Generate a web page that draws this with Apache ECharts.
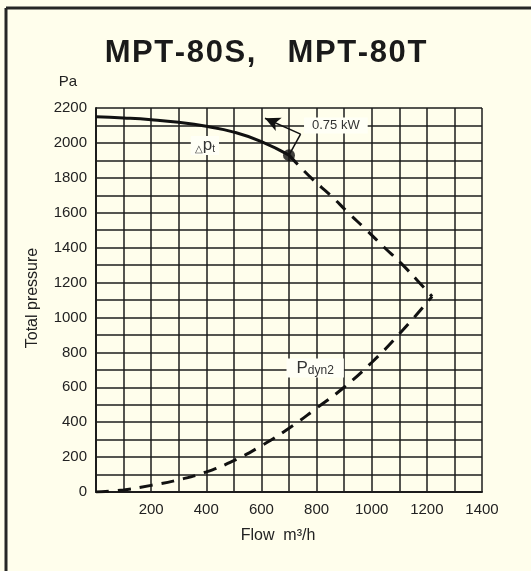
<!DOCTYPE html>
<html><head><meta charset="utf-8">
<script src="https://cdn.jsdelivr.net/npm/echarts@6/dist/echarts.min.js"></script>
<style>html,body{margin:0;padding:0;background:#fffeec}#c{width:531px;height:571px}</style>
</head><body><div id="c"></div>
<script>
// Operating curve (solid) – total pressure Δpt
const curveFlow = [0, 100, 200, 300, 400, 500, 600, 700];
const curvePressure = [2150, 2143, 2133, 2118, 2095, 2062, 2008, 1930];
// Extension of the curve (dashed)
const extFlow = [700, 783, 852, 914, 979, 1045, 1106, 1168, 1219];
const extPressure = [1930, 1795, 1698, 1601, 1504, 1402, 1311, 1208, 1120];
// Dynamic pressure Pdyn2 (dashed)
const dynFlow = [0, 100, 200, 300, 400, 500, 600, 700, 800, 900, 1000, 1100, 1219];
const dynPressure = [0, 12, 38, 70, 115, 180, 265, 365, 480, 600, 742, 905, 1120];
// Rated point
const ratedPoint = [700, 1930];
// Annotation anchor points (data space)
const kwLabelAt = [870, 2100];
const kwBend = [742, 2050];
const kwArrowTip = [613, 2141];
const dptLabelAt = [395, 1985];
const dynLabelAt = [795, 710];
// Tick labels
const xTickLabels = [200, 400, 600, 800, 1000, 1200, 1400];
const yTickLabels = [0, 200, 400, 600, 800, 1000, 1200, 1400, 1600, 1800, 2000, 2200];
const titleText = 'MPT-80S,   MPT-80T';

const FONT = '"Liberation Sans", Arial, sans-serif';
const INK = '#1c1c1c';
const chart = echarts.init(document.getElementById('c'), null, {renderer: 'canvas'});

const zip = (a, b) => a.map((v, i) => [v, b[i]]);
const spaced = titleText.split('').map(ch => '{s|' + ch + '}').join('');

chart.setOption({
  backgroundColor: '#fffeec',
  animation: false,
  title: {
    text: spaced,
    left: 'center',
    top: 33,
    textStyle: {
      fontFamily: FONT, fontSize: 31, fontWeight: 'bold', color: '#1a1a1a',
      rich: {s: {fontFamily: FONT, fontSize: 31, fontWeight: 'bold', color: '#1a1a1a', padding: [0, 0.8, 0, 0.8]}}
    }
  },
  grid: {left: 96, right: 49, top: 108, bottom: 79},
  xAxis: {
    type: 'value', min: 0, max: 1400, interval: 100,
    axisLine: {lineStyle: {color: INK, width: 2}},
    axisTick: {show: false},
    axisLabel: {
      margin: 10, fontSize: 15, color: '#222', fontFamily: FONT,
      formatter: v => xTickLabels.includes(v) ? String(v) : ''
    },
    splitLine: {show: true, lineStyle: {color: INK, width: 1.5}}
  },
  yAxis: {
    type: 'value', min: 0, max: 2200, interval: 100,
    axisLine: {show: true, lineStyle: {color: INK, width: 2}},
    axisTick: {show: false},
    axisLabel: {
      margin: 9, fontSize: 15, color: '#222', fontFamily: FONT,
      formatter: v => yTickLabels.includes(v) ? String(v) : ''
    },
    splitLine: {show: true, lineStyle: {color: INK, width: 1.5}}
  },
  graphic: [
    {type: 'line', shape: {x1: 6, y1: 8, x2: 531, y2: 8}, style: {stroke: '#262626', lineWidth: 3}, z: 100},
    {type: 'line', shape: {x1: 6, y1: 8, x2: 6, y2: 571}, style: {stroke: '#262626', lineWidth: 3}, z: 100},
    {type: 'text', x: 68, y: 82, style: {text: 'Pa', fontFamily: FONT, fontSize: 15, fill: '#222', align: 'center', verticalAlign: 'middle'}},
    {type: 'text', x: 278, y: 536, style: {text: 'Flow  m³/h', fontFamily: FONT, fontSize: 16, fill: '#222', align: 'center', verticalAlign: 'middle'}},
    {type: 'text', x: 33, y: 298, rotation: Math.PI / 2, style: {text: 'Total pressure', fontFamily: FONT, fontSize: 16, fill: '#222', align: 'center', verticalAlign: 'middle'}}
  ],
  series: [
    {
      type: 'line', data: zip(curveFlow, curvePressure), smooth: true, symbol: 'none',
      lineStyle: {color: '#111', width: 3}, z: 5,
      markLine: {
        silent: true, symbol: ['none', 'none'],
        lineStyle: {type: 'solid', color: '#111', width: 1.5},
        label: {show: false},
        data: [
          [{coord: ratedPoint}, {coord: kwBend}],
          [{coord: kwBend}, {coord: kwArrowTip, symbol: 'arrow', symbolSize: [11, 15]}]
        ]
      },
      markPoint: {
        silent: true, symbol: 'rect', symbolSize: 0,
        data: [
          {coord: kwLabelAt, label: {show: true, position: 'inside', formatter: '0.75 kW', fontFamily: FONT, fontSize: 13, color: '#333', backgroundColor: '#fffff6', padding: [2, 8, 1, 8]}},
          {coord: dptLabelAt, label: {show: true, position: 'inside', formatter: '{a|△}{b|p}{c|t}', backgroundColor: '#fffff6', padding: [1, 4, 1, 4],
            rich: {a: {fontFamily: FONT, fontSize: 10, color: '#333', verticalAlign: 'bottom'}, b: {fontFamily: FONT, fontSize: 17, color: '#333'}, c: {fontFamily: FONT, fontSize: 10, color: '#333', verticalAlign: 'bottom', padding: [6, 0, 0, 0]}}}},
          {coord: dynLabelAt, label: {show: true, position: 'inside', formatter: '{a|P}{b|dyn2}', backgroundColor: '#fffff6', padding: [1, 10, 1, 10],
            rich: {a: {fontFamily: FONT, fontSize: 17, color: '#333'}, b: {fontFamily: FONT, fontSize: 12, color: '#333', padding: [5, 0, 0, 0]}}}}
        ]
      }
    },
    {
      type: 'line', data: zip(extFlow, extPressure), smooth: true, symbol: 'none',
      lineStyle: {color: '#111', width: 3, type: [13, 9]}, z: 5
    },
    {
      type: 'line', data: zip(dynFlow, dynPressure), smooth: true, symbol: 'none',
      lineStyle: {color: '#111', width: 3, type: [13, 9]}, z: 5
    },
    {
      type: 'scatter', data: [ratedPoint], symbol: 'circle', symbolSize: 12,
      itemStyle: {color: '#111'}, z: 6
    }
  ]
});
</script>
</body></html>
